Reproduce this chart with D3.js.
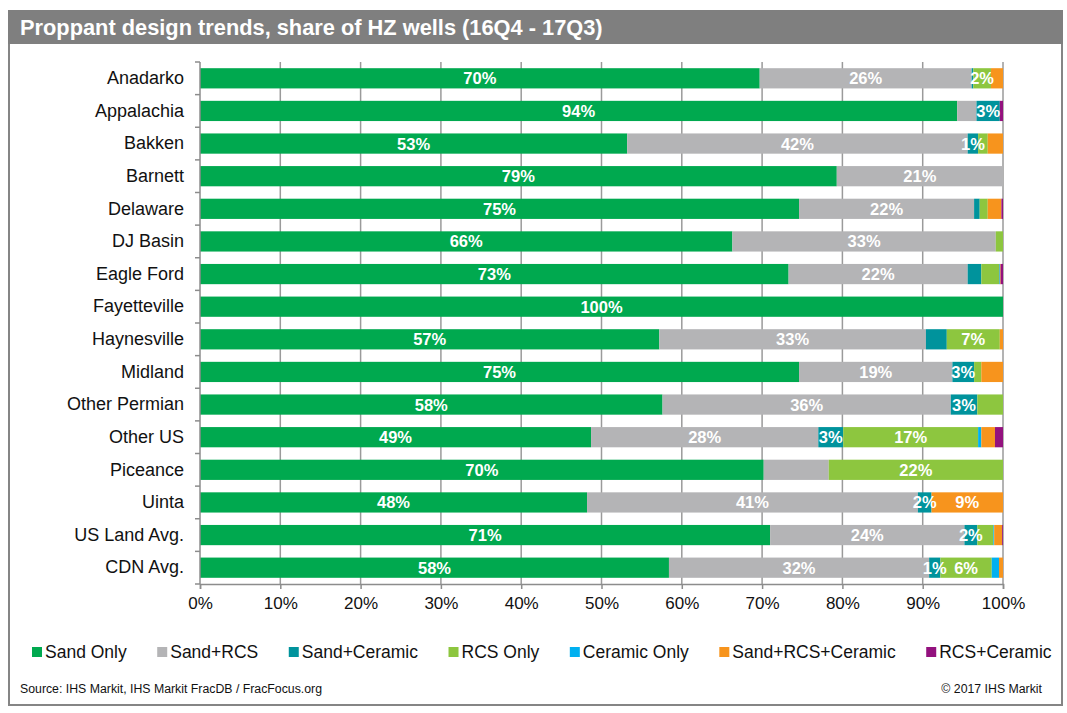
<!DOCTYPE html>
<html>
<head>
<meta charset="utf-8">
<script src="https://cdn.jsdelivr.net/npm/d3@7"></script>
<style>
  body { margin: 0; background: #fff; }
  svg { display: block; font-family: "Liberation Sans", Arial, sans-serif; }
</style>
</head>
<body>
<svg id="chart" width="1067" height="713"></svg>
<script>
(function() {

  // Basins, top to bottom
  var basins = ["Anadarko", "Appalachia", "Bakken", "Barnett", "Delaware", "DJ Basin",
    "Eagle Ford", "Fayetteville", "Haynesville", "Midland", "Other Permian", "Other US",
    "Piceance", "Uinta", "US Land Avg.", "CDN Avg."];

  var designs = ["Sand Only", "Sand+RCS", "Sand+Ceramic", "RCS Only", "Ceramic Only",
    "Sand+RCS+Ceramic", "RCS+Ceramic"];

  var designColors = ["#00a94f", "#b4b4b6", "#00939c", "#8dc63f", "#00b0f0", "#f7941d", "#93117e"];

  // share of wells (%), one array per design, in basin order
  var sandOnly        = [69.7, 94.3, 53.2, 79.3, 74.6, 66.3, 73.3, 100, 57.2, 74.6, 57.6, 48.7, 70.2, 48.2, 71.0, 58.4];
  var sandRcs         = [26.4,  2.4, 42.4, 20.7, 21.8, 32.8, 22.3,   0, 33.2, 19.1, 35.9, 28.3,  8.1, 41.2, 24.2, 32.4];
  var sandCeramic     = [ 0.2,  2.9,  1.3,    0,  0.7,    0,  1.7,   0,  2.6,  2.7,  3.3,  3.1,    0,  1.7,  1.6,  1.4];
  var rcsOnly         = [ 2.2,    0,  1.2,    0,  1.0,  0.9,  2.2,   0,  6.6,  0.9,  3.2, 16.8, 21.7,    0,  2.0,  6.4];
  var ceramicOnly     = [   0,    0,    0,    0,    0,    0,  0.1,   0,    0,    0,    0,  0.4,    0,    0,  0.1,  0.9];
  var sandRcsCeramic  = [ 1.5,    0,  1.9,    0,  1.7,    0,  0.1,   0,  0.4,  2.7,    0,  1.7,    0,  8.9,  1.0,  0.5];
  var rcsCeramic      = [   0,  0.4,    0,    0,  0.2,    0,  0.3,   0,    0,    0,    0,  1.0,    0,    0,  0.1,    0];

  // which segments carry a data label (index into designs), per basin
  var labelled = [[0, 1, 3], [0, 2], [0, 1, 2], [0, 1], [0, 1], [0, 1], [0, 1], [0], [0, 1, 3],
    [0, 1, 2], [0, 1, 2], [0, 1, 2, 3], [0, 3], [0, 1, 2, 5], [0, 1, 2], [0, 1, 2, 3]];

  var xTicks = [0, 10, 20, 30, 40, 50, 60, 70, 80, 90, 100];

  var seriesValues = [sandOnly, sandRcs, sandCeramic, rcsOnly, ceramicOnly, sandRcsCeramic, rcsCeramic];

  var rows = basins.map(function(b, i) {
    var row = { basin: b, index: i };
    designs.forEach(function(d, j) { row[d] = seriesValues[j][i]; });
    return row;
  });

  var svg = d3.select("#chart");

  // frame and title bar
  svg.append("rect")
    .attr("x", 9).attr("y", 11).attr("width", 1053).attr("height", 694)
    .attr("fill", "#fff").attr("stroke", "#858585").attr("stroke-width", 2);
  svg.append("rect")
    .attr("x", 8).attr("y", 10).attr("width", 1055).attr("height", 34)
    .attr("fill", "#7f7f7f");
  svg.append("text")
    .attr("x", 20).attr("y", 35)
    .attr("fill", "#fff")
    .style("font-size", "21.8px").style("font-weight", "bold")
    .text("Proppant design trends, share of HZ wells (16Q4 - 17Q3)");

  var margin = { top: 62, left: 200 };
  var width = 803, height = 522;

  var g = svg.append("g")
    .attr("transform", "translate(" + margin.left + "," + margin.top + ")");

  var x = d3.scaleLinear().domain([0, 100]).range([0, width]);
  var y = d3.scaleBand().domain(basins).range([0, height])
    .paddingInner(0.38).paddingOuter(0.19);

  // vertical gridlines behind the bars
  g.append("g").selectAll("line")
    .data(xTicks.slice(1))
    .join("line")
    .attr("x1", function(d) { return x(d); })
    .attr("x2", function(d) { return x(d); })
    .attr("y1", 0).attr("y2", height)
    .attr("stroke", "#9a9a9a").attr("stroke-width", 1.5);

  var stack = d3.stack().keys(designs);
  var stacked = stack(rows);

  var layers = g.append("g").selectAll("g")
    .data(stacked)
    .join("g")
    .attr("fill", function(d, i) { return designColors[i]; });

  layers.selectAll("rect")
    .data(function(d) { return d; })
    .join("rect")
    .attr("x", function(d) { return x(d[0]); })
    .attr("y", function(d) { return y(d.data.basin); })
    .attr("width", function(d) { return Math.max(0, x(d[1]) - x(d[0])); })
    .attr("height", y.bandwidth());

  // data labels
  var labelData = [];
  stacked.forEach(function(layer, j) {
    layer.forEach(function(d) {
      if (labelled[d.data.index].indexOf(j) >= 0) {
        labelData.push({ basin: d.data.basin, x0: d[0], x1: d[1], v: d[1] - d[0] });
      }
    });
  });

  g.append("g").selectAll("text")
    .data(labelData)
    .join("text")
    .attr("x", function(d) { return x((d.x0 + d.x1) / 2); })
    .attr("y", function(d) { return y(d.basin) + y.bandwidth() / 2; })
    .attr("dy", "0.36em")
    .attr("text-anchor", "middle")
    .attr("fill", "#fff")
    .style("font-size", "16.5px").style("font-weight", "bold")
    .text(function(d) { return Math.round(d.v) + "%"; });

  // axes
  var xAxis = g.append("g")
    .attr("transform", "translate(0," + height + ")")
    .call(d3.axisBottom(x).tickValues(xTicks).tickSize(5).tickPadding(8)
      .tickFormat(function(d) { return d + "%"; }));
  xAxis.selectAll("text").style("font-size", "17px").attr("fill", "#111");

  var yAxis = g.append("g")
    .call(d3.axisLeft(y).tickSize(0).tickPadding(16));
  yAxis.selectAll("text").style("font-size", "18px").attr("fill", "#111");

  // left ticks sit at band boundaries
  g.append("g").selectAll("line")
    .data(d3.range(basins.length + 1))
    .join("line")
    .attr("x1", -5).attr("x2", 0)
    .attr("y1", function(i) { return i * y.step(); })
    .attr("y2", function(i) { return i * y.step(); })
    .attr("stroke", "#8c8c8c").attr("stroke-width", 1.5);

  g.selectAll(".domain").attr("stroke", "#8c8c8c").attr("stroke-width", 1.5);
  xAxis.selectAll(".tick line").attr("stroke", "#8c8c8c").attr("stroke-width", 1.5);
  yAxis.selectAll(".domain").attr("d", "M0,0V" + height);

  // legend
  var legend = svg.append("g").attr("transform", "translate(32,652)");
  var lx = 0;
  designs.forEach(function(d, i) {
    var item = legend.append("g").attr("transform", "translate(" + lx + ",0)");
    item.append("rect")
      .attr("x", 0).attr("y", -5).attr("width", 10).attr("height", 10)
      .attr("fill", designColors[i]);
    var t = item.append("text")
      .attr("x", 13).attr("dy", "0.36em")
      .attr("fill", "#111")
      .style("font-size", "17.5px")
      .text(d);
    lx += 13 + t.node().getComputedTextLength() + 30.5;
  });

  // footer
  svg.append("text")
    .attr("x", 20).attr("y", 693)
    .attr("fill", "#111")
    .style("font-size", "12.3px")
    .text("Source: IHS Markit, IHS Markit FracDB / FracFocus.org");
  svg.append("text")
    .attr("x", 1042).attr("y", 693)
    .attr("text-anchor", "end")
    .attr("fill", "#111")
    .style("font-size", "12.3px")
    .text("\u00a9 2017 IHS Markit");

}());
</script>
</body>
</html>
